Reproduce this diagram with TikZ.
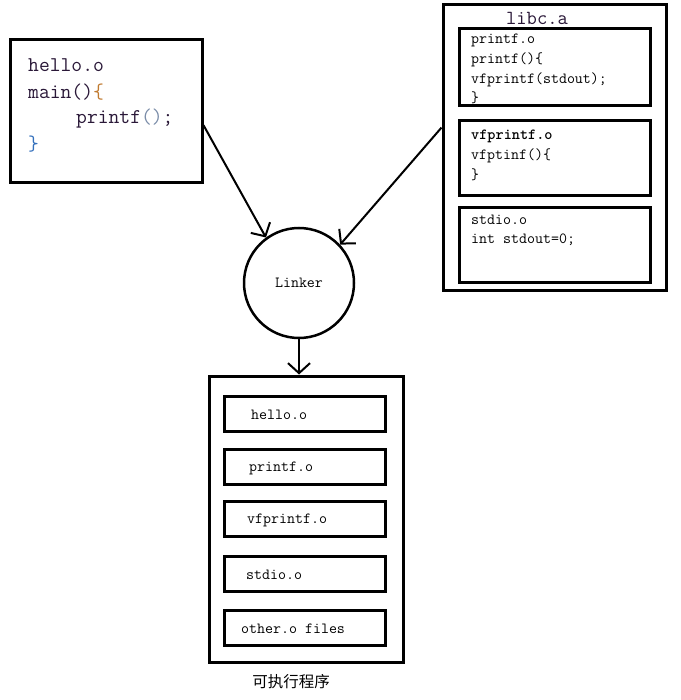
\documentclass[tikz,border=0pt]{standalone}
\usepackage{fontspec}
\newfontfamily\cjk{Noto Sans CJK SC}
\usepackage{xcolor}
\usetikzlibrary{arrows.meta}
\definecolor{codeink}{HTML}{2A1838}
\definecolor{codebrace}{HTML}{C07A30}
\definecolor{codeparen}{HTML}{7A8CA8}
\definecolor{codeblue}{HTML}{3470BC}
\tikzset{
  objbox/.style={draw,line width=3pt,inner sep=0pt},
  linkcircle/.style={circle,draw,line width=2.5pt,minimum size=110pt,inner sep=0pt,font=\ttfamily\fontsize{15.5pt}{18pt}\selectfont},
  bigcode/.style={anchor=west,inner sep=0pt,text=codeink,font=\ttfamily\fontsize{21pt}{24pt}\selectfont},
  smallcode/.style={anchor=west,inner sep=0pt,font=\ttfamily\fontsize{15.5pt}{18pt}\selectfont},
  link/.style={line width=2pt,-{Straight Barb[length=10pt,width=22pt,line width=2pt]}}
}
\begin{document}
\begin{tikzpicture}[x=1pt,y=-1pt]
\useasboundingbox (0,0) rectangle (680,700);
% source object hello.o
\node[objbox,minimum width=192pt,minimum height=143pt] (hello) at (106,111.5) {};
\node[bigcode] (hname) at (28,65) {hello.o};
\node[bigcode] (hmain) at (28,92) {main()\textcolor{codebrace}{\{}};
\node[bigcode] (hcall) at (76,119) {printf\textcolor{codeparen}{()};};
\node[bigcode,text=codeblue] (hend) at (28,144) {\}};
% archive libc.a
\node[objbox,minimum width=223pt,minimum height=285pt] (libc) at (554.5,147.5) {};
\node[bigcode,anchor=center,font=\ttfamily\fontsize{20pt}{24pt}\selectfont] (libcname) at (537,18) {libc.a};
\node[objbox,minimum width=191pt,minimum height=77pt] (printfobj) at (554.5,67.5) {};
\node[objbox,minimum width=191pt,minimum height=75pt] (vfobj) at (554.5,158.5) {};
\node[objbox,minimum width=191pt,minimum height=74pt] (stdioobj) at (554.5,245) {};
\node[smallcode] (p1) at (471,40) {printf.o};
\node[smallcode] (p2) at (471,60) {printf()\{};
\node[smallcode] (p3) at (471,80) {vfprintf(stdout);};
\node[smallcode] (p4) at (471,98) {\}};
\node[smallcode,font=\ttfamily\bfseries\fontsize{15.5pt}{18pt}\selectfont] (v1) at (471,136) {vfprintf.o};
\node[smallcode] (v2) at (471,156) {vfptinf()\{};
\node[smallcode] (v3) at (471,175) {\}};
\node[smallcode] (s1) at (471,220) {stdio.o};
\node[smallcode] (s2) at (471,240) {int stdout=0;};
% linker
\node[linkcircle] (linker) at (299,283) {Linker};
% executable
\node[objbox,minimum width=194pt,minimum height=286pt] (exe) at (306,519) {};
\foreach \i/\y/\tx/\lbl in {1/413.5/251/hello.o,2/467/249/printf.o,3/519/247/vfprintf.o,4/574/246/stdio.o,5/627.5/241/other.o files}{
  \node[objbox,minimum width=161pt,minimum height=35pt] (part\i) at (304.5,\y) {};
  \node[smallcode] (partname\i) at (\tx,\y+1) {\lbl};
}
\node[font=\cjk\fontsize{15.5pt}{18pt}\selectfont,inner sep=0pt] (exename) at (291,682) {可执行程序};
% connectors
\draw[link] (hello.-8) -- (linker.126);
\draw[link] (libc.170) -- (linker.43);
\draw[link] (linker.south) -- (linker.south |- exe.north);
\end{tikzpicture}
\end{document}
